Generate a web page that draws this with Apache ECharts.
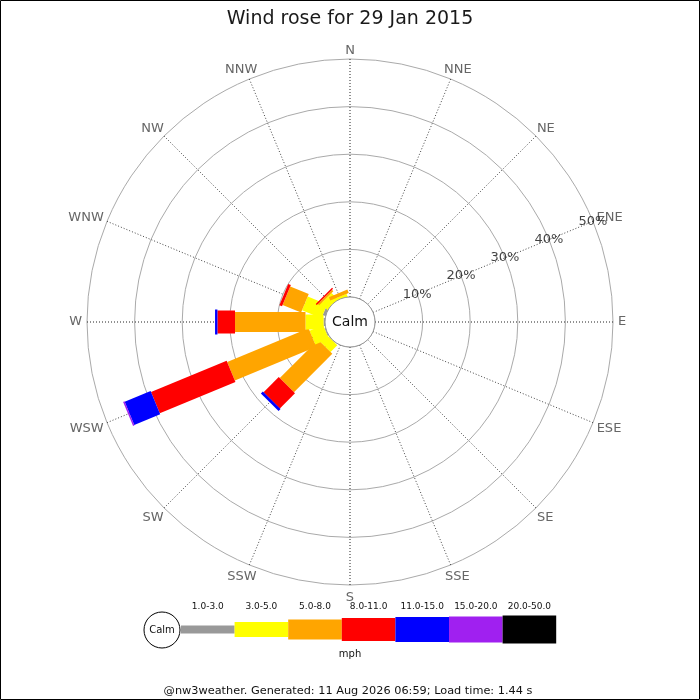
<!DOCTYPE html>
<html>
<head>
<meta charset="utf-8">
<script src="https://cdn.jsdelivr.net/npm/echarts@6/dist/echarts.min.js"></script>
<style>
  html, body { margin: 0; padding: 0; background: #fff; }
  #chart { width: 700px; height: 700px; }
</style>
</head>
<body>
<div id="chart"></div>
<script>
// directions, clockwise from north, 22.5 degrees apart
var directions = ["N", "NNE", "NE", "ENE", "E", "ESE", "SE", "SSE",
                  "S", "SSW", "SW", "WSW", "W", "WNW", "NW", "NNW"];
var speedBands = ["1.0-3.0", "3.0-5.0", "5.0-8.0", "8.0-11.0", "11.0-15.0", "15.0-20.0", "20.0-50.0"];
var bandColors = ["#999999", "#ffff00", "#ffa500", "#ff0000", "#0000ff", "#a020f0", "#000000"];
var bandWidths = [8, 15, 20, 23, 25, 26, 28];
var pctTicks = [10, 20, 30, 40, 50];

// percent of time per direction, one array per speed band (N .. NNW)
var pct1to3   = [0, 0, 0, 0, 0, 0, 0, 0, 0, 0, 0.1, 0.2, 0.3, 0.6, 0, 0];
var pct3to5   = [0, 0, 0, 0, 0, 0, 0, 0, 0, 0, 2.0, 3.1, 3.8, 4.4, 1.8, 0.5];
var pct5to8   = [0, 0, 0, 0, 0, 0, 0, 0, 0, 0, 11.4, 18.5, 14.8, 4.2, 0.4, 0.75];
var pct8to11  = [0, 0, 0, 0, 0, 0, 0, 0, 0, 0, 4.5, 17.2, 3.7, 0.6, 0.3, 0];
var pct11to15 = [0, 0, 0, 0, 0, 0, 0, 0, 0, 0, 0.6, 5.9, 0.5, 0, 0, 0];
var pct15to20 = [0, 0, 0, 0, 0, 0, 0, 0, 0, 0, 0, 0.3, 0, 0, 0, 0];
var pct20to50 = [0, 0, 0, 0, 0, 0, 0, 0, 0, 0, 0, 0, 0, 0, 0, 0];

var calmPct = 0;
var titleText = "Wind rose for 29 Jan 2015";
var unitText = "mph";
var footerText = "@nw3weather. Generated: 11 Aug 2026 06:59; Load time: 1.44 s";

var bandValues = [pct1to3, pct3to5, pct5to8, pct8to11, pct11to15, pct15to20, pct20to50];
var step = 360 / directions.length;

// stacked segments: [start, end, angle, band index]
var segments = [];
directions.forEach(function (d, i) {
  var cum = 0;
  bandValues.forEach(function (vals, b) {
    var v = vals[i];
    if (v > 0) {
      segments.push([cum, cum + v, i * step, b]);
      cum += v;
    }
  });
});

function renderSegment(params, api) {
  var cs = params.coordSys;
  var start = api.value(0), end = api.value(1), ang = api.value(2), band = api.value(3);
  var pEnd = api.coord([end, ang]);
  var pStart = api.coord([start, ang]);
  var vx = pEnd[0] - cs.cx, vy = pEnd[1] - cs.cy;
  var r1 = Math.sqrt(vx * vx + vy * vy);
  var ux = vx / r1, uy = vy / r1;
  var r0 = start > 0 ? Math.sqrt(Math.pow(pStart[0] - cs.cx, 2) + Math.pow(pStart[1] - cs.cy, 2)) : 0;
  var hw = bandWidths[band] / 2;
  var nx = -uy * hw, ny = ux * hw;
  var pts = [
    [cs.cx + ux * r0 + nx, cs.cy + uy * r0 + ny],
    [cs.cx + ux * r1 + nx, cs.cy + uy * r1 + ny],
    [cs.cx + ux * r1 - nx, cs.cy + uy * r1 - ny],
    [cs.cx + ux * r0 - nx, cs.cy + uy * r0 - ny]
  ];
  return { type: "polygon", shape: { points: pts }, style: { fill: bandColors[band] } };
}

function renderCalm(params, api) {
  var cs = params.coordSys;
  return {
    type: "group",
    children: [
      { type: "circle", shape: { cx: cs.cx, cy: cs.cy, r: cs.r0 },
        style: { fill: "#fff", stroke: "#999", lineWidth: 1 } },
      { type: "text", style: { x: cs.cx, y: cs.cy, text: "Calm", fill: "#111",
        font: "14px 'DejaVu Sans'", align: "center", verticalAlign: "middle" } }
    ]
  };
}

// compass labels just outside the outer ring
var labelFont = "13px 'DejaVu Sans'";
var measureCtx = document.createElement("canvas").getContext("2d");
measureCtx.font = labelFont;
function renderDirLabel(params, api) {
  var cs = params.coordSys;
  var p = api.coord([api.value(0), api.value(1)]);
  var vx = p[0] - cs.cx, vy = p[1] - cs.cy;
  var r = Math.sqrt(vx * vx + vy * vy);
  var ux = vx / r, uy = vy / r;
  var text = directions[params.dataIndex];
  var w = measureCtx.measureText(text).width;
  var dy = uy * 10 + (uy > 0.1 ? 2.5 : (uy < -0.99 ? 1.5 : 0));
  return { type: "text", style: { x: p[0] + ux * (w / 2 + 5), y: p[1] + dy, text: text, fill: "#666",
    font: labelFont, align: "center", verticalAlign: "middle" } };
}

// legend at the bottom
var legendGraphics = [];
var legX = 181, legY = 629.5, legW = 53.6;
legendGraphics.push({ type: "circle", shape: { cx: 162, cy: 630, r: 18 },
  style: { fill: "#fff", stroke: "#000", lineWidth: 1 } });
legendGraphics.push({ type: "text", style: { x: 162, y: 630, text: "Calm", fill: "#111",
  font: "10px 'DejaVu Sans'", align: "center", verticalAlign: "middle" } });
speedBands.forEach(function (label, b) {
  var h = bandWidths[b];
  legendGraphics.push({ type: "rect", shape: { x: legX + b * legW, y: legY - h / 2, width: legW, height: h },
    style: { fill: bandColors[b] } });
  legendGraphics.push({ type: "text", style: { x: legX + b * legW + legW / 2, y: 607, text: label, fill: "#111",
    font: "9px 'DejaVu Sans'", align: "center", verticalAlign: "middle" } });
});
legendGraphics.push({ type: "text", style: { x: 350, y: 654, text: unitText, fill: "#111",
  font: "10px 'DejaVu Sans'", align: "center", verticalAlign: "middle" } });
legendGraphics.push({ type: "text", style: { x: 348, y: 691, text: footerText, fill: "#111",
  font: "11.3px 'DejaVu Sans'", align: "center", verticalAlign: "middle" } });
legendGraphics.push({ type: "rect", shape: { x: 0.5, y: 0.5, width: 699, height: 699 },
  style: { fill: "none", stroke: "#000", lineWidth: 1 } });

var chart = echarts.init(document.getElementById("chart"));

var option = {
  animation: false,
  backgroundColor: "#fff",
  textStyle: { fontFamily: "DejaVu Sans" },
  title: {
    text: titleText,
    left: "center",
    top: 5,
    textStyle: { fontSize: 19, fontWeight: "normal", color: "#1a1a1a", fontFamily: "DejaVu Sans" }
  },
  polar: { center: [350, 322], radius: [25, 263] },
  angleAxis: {
    type: "value",
    min: 0,
    max: 360,
    interval: step,
    startAngle: 90,
    clockwise: true,
    axisLine: { show: false },
    axisTick: { show: false },
    axisLabel: { show: false },
    splitLine: { show: true, lineStyle: { color: ["#222", "#444", "#444", "#444"], type: [1, 2], width: 1 } }
  },
  radiusAxis: {
    type: "value",
    min: 0,
    max: 50,
    interval: 10,
    axisLine: { show: false },
    axisTick: { show: false },
    axisLabel: { show: false },
    splitLine: { show: true, lineStyle: { color: "#aaa", width: 1 } }
  },
  graphic: legendGraphics,
  series: [
    {
      type: "custom",
      coordinateSystem: "polar",
      encode: { radius: [0, 1], angle: 2 },
      renderItem: renderSegment,
      data: segments,
      z: 3
    },
    {
      type: "custom",
      coordinateSystem: "polar",
      encode: { radius: 0, angle: 1 },
      renderItem: renderCalm,
      data: [[calmPct, 0]],
      z: 5
    },
    {
      type: "custom",
      coordinateSystem: "polar",
      encode: { radius: 0, angle: 1 },
      renderItem: renderDirLabel,
      data: directions.map(function (d, i) { return [50, i * step]; }),
      z: 5
    },
    {
      type: "scatter",
      coordinateSystem: "polar",
      symbolSize: 0,
      data: pctTicks.map(function (v) { return [v, 3 * step]; }),
      label: {
        show: true,
        position: "inside",
        color: "#111",
        fontSize: 13,
        formatter: function (p) { return p.value[0] + "%"; }
      },
      z: 6
    }
  ]
};

chart.setOption(option);
</script>
</body>
</html>
